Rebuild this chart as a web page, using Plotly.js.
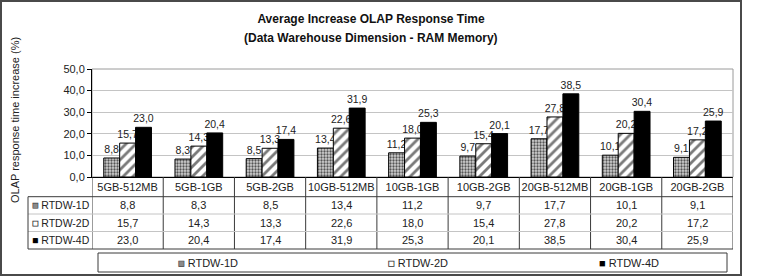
<!DOCTYPE html>
<html>
<head>
<meta charset="utf-8">
<script src="https://cdn.plot.ly/plotly-3.0.1.min.js"></script>
<style>
  html, body { margin: 0; padding: 0; background: #fff; }
  #chart { width: 762px; height: 276px; }
</style>
</head>
<body>
<div id="chart"></div>
<script>
// ---- data ----
const categories = ['5GB-512MB', '5GB-1GB', '5GB-2GB', '10GB-512MB', '10GB-1GB',
                    '10GB-2GB', '20GB-512MB', '20GB-1GB', '20GB-2GB'];
const seriesNames = ['RTDW-1D', 'RTDW-2D', 'RTDW-4D'];
const rtdw1D = [8.8, 8.3, 8.5, 13.4, 11.2, 9.7, 17.7, 10.1, 9.1];
const rtdw2D = [15.7, 14.3, 13.3, 22.6, 18.0, 15.4, 27.8, 20.2, 17.2];
const rtdw4D = [23.0, 20.4, 17.4, 31.9, 25.3, 20.1, 38.5, 30.4, 25.9];
const yTicks = [0, 10, 20, 30, 40, 50];
const titleLines = ['Average Increase OLAP Response Time', '(Data Warehouse Dimension - RAM Memory)'];
const yTitle = 'OLAP response time increase (%)';
const seriesValues = [rtdw1D, rtdw2D, rtdw4D];

// ---- styling ----
const FONT = 'Liberation Sans, Arial, Helvetica, sans-serif';
const TEXT = '#222';
const W = 762, H = 276;
// plot box in pixels
const L = 92, R = 733, T = 69, B = 177;
const px = x => (x - L) / (R - L);
const py = y => (B - y) / (B - T);

const markers = [
  { color: '#cfcfcf', line: { color: '#000', width: 1 },
    pattern: { shape: '.', fgcolor: '#555', bgcolor: '#d2d2d2', size: 3, solidity: 0.45 } },
  { color: '#ffffff', line: { color: '#000', width: 1 },
    pattern: { shape: '/', fgcolor: '#7a7a7a', bgcolor: '#ffffff', size: 7, solidity: 0.4 } },
  { color: '#000000', line: { color: '#000', width: 1 } }
];
const icons = [
  '<span style="fill:#8a8a8a;stroke:#444;stroke-width:0.6">■</span>',
  '<span style="fill:#ffffff;stroke:#333;stroke-width:0.8">■</span>',
  '<span style="fill:#000">■</span>'
];
const fmt = v => v.toFixed(1).replace('.', ',');

const traces = seriesNames.map((name, s) => ({
  type: 'bar',
  name: name,
  x: categories,
  y: seriesValues[s],
  marker: markers[s],
  texttemplate: '%{y:.1f}',
  textposition: 'outside',
  constraintext: 'none',
  cliponaxis: false,
  textfont: { family: FONT, size: 10.5, color: TEXT },
  hoverinfo: 'skip',
  showlegend: false
}));

// ---- data table under the plot ----
const shapes = [];
const annotations = [];
const rowY = [py(196.7), py(214), py(231.5), py(249)];
const tableLeft = px(28);
const dark = { color: '#3a3a3a', width: 1 };
const light = { color: '#c4c4c4', width: 1 };

// vertical separators between category columns
for (let i = 0; i <= categories.length; i++) {
  shapes.push({ type: 'line', xref: 'x', yref: 'paper', x0: i - 0.5, x1: i - 0.5,
                y0: 0, y1: rowY[3], line: dark });
}
// horizontal rules
shapes.push({ type: 'line', xref: 'paper', yref: 'paper', x0: tableLeft, x1: 1, y0: rowY[0], y1: rowY[0], line: dark });
shapes.push({ type: 'line', xref: 'paper', yref: 'paper', x0: tableLeft, x1: 1, y0: rowY[1], y1: rowY[1], line: light });
shapes.push({ type: 'line', xref: 'paper', yref: 'paper', x0: tableLeft, x1: 1, y0: rowY[2], y1: rowY[2], line: light });
shapes.push({ type: 'line', xref: 'paper', yref: 'paper', x0: tableLeft, x1: 1, y0: rowY[3], y1: rowY[3], line: dark });
shapes.push({ type: 'line', xref: 'paper', yref: 'paper', x0: tableLeft, x1: tableLeft, y0: rowY[0], y1: rowY[3], line: dark });

// plot area frame (top/right in gray)
shapes.push({ type: 'rect', xref: 'paper', yref: 'paper', x0: 0, x1: 1, y0: 0, y1: 1,
              line: { color: '#9a9a9a', width: 1 }, layer: 'below' });
// legend frame
shapes.push({ type: 'rect', xref: 'paper', yref: 'paper', x0: px(98), x1: px(727), y0: py(253), y1: py(272),
              line: { color: '#3a3a3a', width: 1 } });
// outer chart frame
shapes.push({ type: 'rect', xref: 'paper', yref: 'paper', x0: px(1), x1: px(741), y0: py(1), y1: py(275),
              line: { color: '#4a4a4a', width: 2 } });

const legendX = [176, 386, 597];
seriesNames.forEach((name, s) => {
  const yc = (rowY[s] + rowY[s + 1]) / 2;
  annotations.push({ xref: 'paper', yref: 'paper', x: px(30), y: yc, xanchor: 'left', yanchor: 'middle',
                     showarrow: false, text: icons[s] + ' ' + name,
                     font: { family: FONT, size: 10.5, color: TEXT } });
  seriesValues[s].forEach((v, i) => {
    annotations.push({ xref: 'x', yref: 'paper', x: i, y: yc, xanchor: 'center', yanchor: 'middle',
                       showarrow: false, text: fmt(v),
                       font: { family: FONT, size: 11, color: TEXT } });
  });
  // legend entry
  annotations.push({ xref: 'paper', yref: 'paper', x: px(legendX[s]), y: py(262.5), xanchor: 'left', yanchor: 'middle',
                     showarrow: false, text: icons[s] + ' ' + name,
                     font: { family: FONT, size: 11, color: TEXT } });
});

// axis title
annotations.push({ xref: 'paper', yref: 'paper', x: px(15), y: py(120), textangle: -90,
                   xanchor: 'center', yanchor: 'middle', showarrow: false,
                   text: yTitle, font: { family: FONT, size: 11, color: TEXT } });
// second title line
annotations.push({ xref: 'paper', yref: 'paper', x: px(371), y: py(38), xanchor: 'center', yanchor: 'middle',
                   showarrow: false, text: '<b>' + titleLines[1] + '</b>',
                   font: { family: FONT, size: 12, color: '#111' } });

const layout = {
  width: W, height: H,
  margin: { l: L, r: W - R, t: T, b: H - B, autoexpand: false },
  paper_bgcolor: '#fff', plot_bgcolor: '#fff',
  separators: ', ',
  font: { family: FONT, size: 11, color: TEXT },
  title: {
    text: '<b>' + titleLines[0] + '</b>',
    font: { family: FONT, size: 12, color: '#111' },
    x: px(371), xanchor: 'center', xref: 'paper',
    y: 1 - 19 / H, yanchor: 'middle'
  },
  barmode: 'group',
  bargap: 0.33,
  bargroupgap: 0,
  showlegend: false,
  xaxis: {
    type: 'category', range: [-0.5, categories.length - 0.5],
    showline: true, linecolor: '#000', linewidth: 1,
    showgrid: false, ticks: '', zeroline: false,
    tickfont: { family: FONT, size: 11, color: TEXT }, fixedrange: true
  },
  yaxis: {
    range: [yTicks[0], yTicks[yTicks.length - 1]],
    tickvals: yTicks, tickformat: '.1f',
    showline: true, linecolor: '#000', linewidth: 1,
    ticks: 'outside', ticklen: 4, tickcolor: '#000',
    showgrid: true, gridcolor: '#c4c4c4', gridwidth: 1, zeroline: false,
    tickfont: { family: FONT, size: 11, color: TEXT }, fixedrange: true
  },
  shapes: shapes,
  annotations: annotations
};

Plotly.newPlot('chart', traces, layout, { displayModeBar: false, staticPlot: true });
</script>
</body>
</html>
